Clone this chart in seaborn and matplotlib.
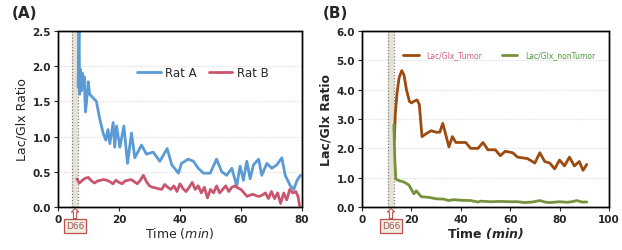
import numpy as np
import pandas as pd
import matplotlib
matplotlib.use("Agg")
import matplotlib.pyplot as plt
from matplotlib.patches import Rectangle
import seaborn as sns

# Panel A
rat_a_t = [6.6, 6.9, 7.1, 7.4, 7.7, 8.0, 8.3, 8.6, 9.0, 9.4, 9.9, 10.4, 11.5, 12.6, 13.7, 14.8,
           15.7, 16.4, 17.0, 18.1, 18.6, 19.2, 20.3, 21.6, 22.8, 24.1, 25.2, 27.4, 29.0, 31.2,
           33.4, 35.8, 37.3, 39.5, 40.5, 42.7, 44.4, 46.0, 47.7, 49.9, 52.0, 53.7, 55.3, 57.0,
           58.6, 59.7, 60.8, 61.9, 63.0, 64.1, 65.8, 66.8, 68.5, 70.1, 71.8, 73.4, 74.5, 76.2,
           77.3, 78.4, 79.5]
rat_a_v = [1.7, 2.6, 1.6, 1.95, 1.65, 1.9, 1.7, 1.85, 1.35, 1.5, 1.78, 1.6, 1.55, 1.5, 1.25, 1.05,
           0.95, 1.1, 0.9, 1.2, 0.85, 1.15, 0.85, 1.15, 0.62, 1.05, 0.7, 0.88, 0.75, 0.78,
           0.65, 0.83, 0.6, 0.48, 0.62, 0.68, 0.65, 0.55, 0.48, 0.48, 0.68, 0.5, 0.45, 0.55,
           0.3, 0.58, 0.38, 0.65, 0.4, 0.6, 0.68, 0.45, 0.62, 0.55, 0.6, 0.7, 0.45, 0.3,
           0.25, 0.38, 0.45]
rat_b_t = [6.2, 7, 8, 9, 10, 11, 12, 13, 14, 15, 16, 17, 18, 19, 20, 21, 22, 23, 24, 25, 26, 27,
           28, 29, 30, 31, 32, 33, 34, 35, 36, 37, 38, 39, 40, 41, 42, 43, 44, 45, 46, 47, 48,
           49, 50, 51, 52, 53, 54, 55, 56, 57, 58, 59, 60, 61, 62, 63, 64, 65, 66, 67, 68, 69,
           70, 71, 72, 73, 74, 75, 76, 77, 78, 78.7, 79.2]
rat_b_v = [0.4, 0.34, 0.38, 0.41, 0.42, 0.37, 0.34, 0.37, 0.38, 0.39, 0.38, 0.36, 0.33, 0.38,
           0.35, 0.33, 0.37, 0.38, 0.39, 0.36, 0.33, 0.38, 0.45, 0.36, 0.3, 0.28, 0.27, 0.26,
           0.25, 0.32, 0.28, 0.25, 0.3, 0.22, 0.33, 0.26, 0.22, 0.28, 0.35, 0.25, 0.3, 0.2,
           0.28, 0.13, 0.25, 0.2, 0.3, 0.2, 0.25, 0.3, 0.22, 0.28, 0.3, 0.27, 0.25, 0.2, 0.15,
           0.17, 0.18, 0.16, 0.15, 0.17, 0.2, 0.12, 0.22, 0.12, 0.2, 0.05, 0.2, 0.1, 0.25,
           0.2, 0.22, 0.15, 0.02]

# Panel B
tumor_t = [13.1, 13.5, 14.2, 15.0, 16.1, 17.0, 18.0, 19.2, 20.0, 21.0, 22.3, 23.2, 24.3, 26.0,
           28.0, 30.0, 31.5, 32.7, 33.5, 35.2, 36.6, 38.0, 40.0, 42.0, 44.0, 47.0, 49.0, 51.0,
           54.0, 56.0, 58.0, 61.0, 63.0, 67.0, 70.0, 72.0, 74.0, 76.0, 78.0, 80.0, 82.0, 84.0,
           86.0, 88.0, 89.5, 91.0]
tumor_v = [2.3, 3.2, 3.9, 4.4, 4.65, 4.5, 4.0, 3.6, 3.55, 3.6, 3.65, 3.5, 2.4, 2.5,
           2.6, 2.55, 2.55, 2.85, 2.6, 2.05, 2.4, 2.2, 2.2, 2.2, 2.0, 2.0, 2.2, 1.95,
           1.95, 1.75, 1.9, 1.85, 1.7, 1.65, 1.5, 1.85, 1.55, 1.5, 1.3, 1.6, 1.4, 1.7,
           1.4, 1.55, 1.25, 1.45]
nontumor_t = [12.9, 13.3, 13.7, 15, 17, 19, 20, 21, 22, 23, 24, 27, 30, 33, 35, 37, 40, 44, 47,
              48, 52, 56, 60, 63, 66, 69, 72, 74, 76, 80, 83, 85, 87, 89, 91]
nontumor_v = [2.8, 1.6, 0.95, 0.9, 0.85, 0.75, 0.6, 0.45, 0.55, 0.45, 0.35, 0.33, 0.28, 0.27,
              0.22, 0.25, 0.23, 0.22, 0.17, 0.2, 0.18, 0.19, 0.18, 0.18, 0.15, 0.17, 0.22,
              0.17, 0.15, 0.18, 0.16, 0.18, 0.22, 0.17, 0.17]

sns.set_style("white")
plt.rcParams["font.family"] = ["DejaVu Sans"]
plt.rcParams["mathtext.fontset"] = "dejavusans"

fig = plt.figure(figsize=(6.22, 2.51), dpi=100)
ax1 = fig.add_axes([0.0932, 0.1713, 0.3923, 0.7012])
ax2 = fig.add_axes([0.582, 0.1713, 0.397, 0.7012])


def style_axes(ax, xmax, ymax, ystep, yfmt):
    ax.set_xlim(0, xmax)
    ax.set_ylim(0, ymax)
    yt = np.arange(0, ymax + 0.01, ystep)
    xt = np.arange(0, xmax + 1, 20)
    ax.set_yticks(yt)
    ax.set_xticks(xt)
    ax.set_yticklabels([yfmt % v for v in yt], fontweight="bold")
    ax.set_xticklabels(["%d" % v for v in xt], fontweight="bold")
    ax.tick_params(axis="both", direction="out", length=3, width=0.8, labelsize=7.5, pad=2,
                   bottom=True, left=True)
    ax.yaxis.grid(True, color="#d9d9d9", linestyle=(0, (1, 1.5)), linewidth=0.8)
    ax.set_axisbelow(True)
    for s in ax.spines.values():
        s.set_color("black")
        s.set_linewidth(1.0)
    # full frame around the plot area
    ax.add_patch(Rectangle((0, 0), 1, 1, transform=ax.transAxes, fill=False,
                           ec="black", lw=1.0, clip_on=False, zorder=10))


def d66(ax, x0, x1):
    ax.axvspan(x0, x1, color="#e6e2d6", zorder=0, lw=0)
    ax.axvline(x0, color="#7f7f7f", linestyle=(0, (1, 1.5)), linewidth=0.9, zorder=1)
    ax.axvline(x1, color="#7f7f7f", linestyle=(0, (1, 1.5)), linewidth=0.9, zorder=1)
    ax.annotate("D66", xy=((x0 + x1) / 2, 0), xycoords=("data", "axes fraction"),
                xytext=(0, -13.5), textcoords="offset points", ha="center", va="center",
                fontsize=6.5, color="#a05a5a",
                bbox=dict(boxstyle="square,pad=0.25", fc="#eeece1", ec="#c0504d", lw=0.9),
                arrowprops=dict(arrowstyle="simple,head_width=0.8,head_length=0.4,tail_width=0.35",
                                fc="white", ec="#c0504d", lw=0.8, shrinkA=0, shrinkB=1))


# Panel A
d66(ax1, 4.6, 6.6)
sns.lineplot(x=rat_a_t, y=rat_a_v, ax=ax1, color="#5b9bd5", linewidth=2.0, label="Rat A")
sns.lineplot(x=rat_b_t, y=rat_b_v, ax=ax1, color="#c9566e", linewidth=2.0, label="Rat B")
style_axes(ax1, 80, 2.5, 0.5, "%.1f")
ax1.set_ylabel("Lac/Glx Ratio", fontsize=9, labelpad=3)
ax1.set_xlabel(r"Time $\mathit{(min)}$", fontsize=9, labelpad=1)
ax1.legend(loc="upper left", bbox_to_anchor=(0.28, 0.86), ncol=2, frameon=False,
           fontsize=8.5, handlelength=2.0, columnspacing=1.0, handletextpad=0.4)
ax1.text(-0.085, 1.06, "(A)", transform=ax1.transAxes, fontsize=11, fontweight="bold",
         ha="right", va="bottom")

# Panel B
d66(ax2, 10.5, 13.0)
sns.lineplot(x=tumor_t, y=tumor_v, ax=ax2, color="#9c4a0e", linewidth=2.0, label="Lac/Glx_Tumor")
sns.lineplot(x=nontumor_t, y=nontumor_v, ax=ax2, color="#76923c", linewidth=2.0,
             label="Lac/Glx_nonTumor")
style_axes(ax2, 100, 6.0, 1.0, "%.1f")
ax2.set_ylabel("Lac/Glx Ratio", fontsize=9, fontweight="bold", labelpad=3)
ax2.set_xlabel(r"$\mathbf{Time}$ $\mathbfit{(min)}$", fontsize=9, labelpad=1)
leg = ax2.legend(loc="upper left", bbox_to_anchor=(0.14, 0.93), ncol=2, frameon=False,
                 fontsize=5.5, handlelength=2.0, columnspacing=2.6, handletextpad=1.0)
for txt, col in zip(leg.get_texts(), ["#d0607a", "#4f9a3c"]):
    txt.set_color(col)
ax2.text(-0.16, 1.06, "(B)", transform=ax2.transAxes, fontsize=11, fontweight="bold",
         ha="left", va="bottom")

fig.savefig("out.png", dpi=100)
